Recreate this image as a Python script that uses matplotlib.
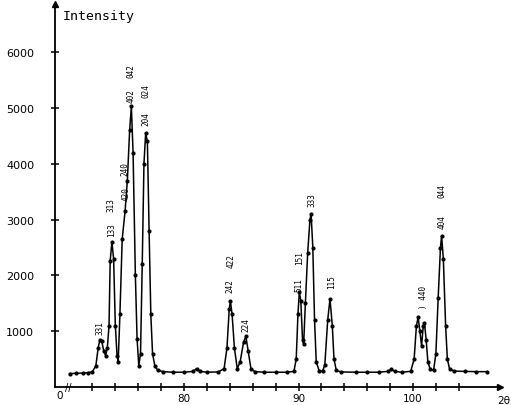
# X-ray diffraction pattern (scanned figure redrawn)

import numpy as np
import matplotlib
matplotlib.use('Agg')
import matplotlib.pyplot as plt

# Trace: 2theta (deg) and intensity (counts)
two_theta = [70.0, 70.6, 71.2, 71.6, 72.0, 72.3, 72.5, 72.65, 72.8, 73.0, 73.15, 73.3,
             73.45, 73.55, 73.7, 73.85, 74.0, 74.15, 74.25, 74.4, 74.6, 74.85,
             75.05, 75.25, 75.4, 75.55, 75.75, 75.9, 76.05, 76.2, 76.35, 76.5,
             76.65, 76.8, 76.95, 77.1, 77.25, 77.45, 77.7, 78.2, 79.0, 80.0,
             80.8, 81.1, 81.4, 82.0, 83.0, 83.5, 83.75, 83.95, 84.05, 84.2,
             84.4, 84.65, 84.9, 85.2, 85.4, 85.6, 85.85, 86.2, 87.0, 88.0,
             89.0, 89.6, 89.8, 89.95, 90.07, 90.2, 90.35, 90.45, 90.6, 90.8,
             91.0, 91.1, 91.25, 91.4, 91.55, 91.8, 92.1, 92.3, 92.55, 92.75,
             92.95, 93.1, 93.3, 93.7, 95.0, 96.0, 97.0, 97.8, 98.1, 98.4,
             99.0, 99.8, 100.1, 100.3, 100.45, 100.6, 100.75, 100.9, 101.0, 101.15,
             101.3, 101.5, 101.8, 102.0, 102.2, 102.4, 102.5, 102.65, 102.85, 103.0,
             103.2, 103.6, 104.5, 105.5, 106.5]
intensity = [240, 245, 250, 255, 275, 380, 700, 850, 830, 640, 560, 700,
             1100, 2260, 2600, 2300, 1100, 560, 450, 1300, 2650, 3150,
             3700, 4600, 5030, 4200, 2000, 860, 380, 600, 2200, 4000,
             4550, 4400, 2800, 1300, 600, 380, 300, 275, 265, 265,
             280, 330, 280, 265, 270, 330, 700, 1400, 1540, 1300,
             700, 330, 450, 800, 910, 650, 320, 275, 265, 265,
             265, 280, 500, 1300, 1700, 1550, 850, 770, 1500, 2400,
             3000, 3100, 2500, 1200, 450, 290, 280, 400, 1200, 1580,
             1100, 500, 300, 270, 265, 265, 265, 280, 320, 280,
             265, 280, 500, 1100, 1250, 1000, 740, 1100, 1150, 850,
             450, 320, 300, 600, 1600, 2500, 2710, 2300, 1100, 500,
             320, 285, 280, 275, 275]

# Miller index labels: text, 2theta, intensity at the bottom of the text
peak_labels = ['331', '133', '313', '420', '240', '402', '042', '204', '024',
               '242', '422', '224', '511', '151', '333', '115', ') 440', '404', '044']
label_x = [72.66, 73.65, 73.65, 74.9, 74.85, 75.35, 75.35, 76.65, 76.65,
           84.05, 84.1, 85.45, 90.07, 90.07, 91.15, 92.85, 100.9, 102.55, 102.55]
label_y = [950, 2700, 3150, 3350, 3800, 5100, 5550, 4700, 5200,
           1700, 2150, 1000, 1720, 2200, 3250, 1780, 1420, 2850, 3400]

x_ticks = [72, 74, 76, 78, 80, 82, 84, 86, 88, 90, 92, 94, 96, 98, 100, 102, 104]
x_ticklabels = ['', '', '', '', '80', '', '', '', '', '90', '', '', '', '', '100', '', '']
y_ticks = [1000, 2000, 3000, 4000, 5000, 6000]

fig = plt.figure(figsize=(5.11, 4.06), dpi=100)
ax = fig.add_axes([55 / 511, 18 / 406, 445 / 511, 383 / 406])
ax.set_xlim(68.73, 107.6)
ax.set_ylim(0, 6864)

ax.plot(two_theta, intensity, color='black', lw=1.1, marker='o', ms=2.0)

mono = 'DejaVu Sans Mono'
for t, x, y in zip(peak_labels, label_x, label_y):
    ax.text(x, y, t, rotation=90, ha='center', va='bottom', fontsize=5.5,
            family=mono)

# axes drawn like the original: arrows, crossing ticks
for s in ['top', 'right']:
    ax.spines[s].set_visible(False)
ax.spines['left'].set_linewidth(1.3)
ax.spines['bottom'].set_linewidth(1.3)
ax.plot(0, 1, marker='^', color='black', ms=4, transform=ax.transAxes, clip_on=False)
ax.plot(1, 0, marker='>', color='black', ms=4, transform=ax.transAxes, clip_on=False)

ax.set_xticks(x_ticks)
ax.set_xticklabels(x_ticklabels)
ax.set_yticks(y_ticks)
ax.tick_params(direction='inout', length=6, width=1.1, labelsize=8)
ax.tick_params(axis='y', pad=12)
ax.tick_params(axis='x', labelsize=7.5, pad=1)

ax.text(69.17, -60, '0', ha='center', va='top', fontsize=7.5)
ax.text(69.9, 0, '//', ha='center', va='center', fontsize=7)
ax.text(510 / 511, 5 / 406, '2θ', transform=fig.transFigure, ha='right',
        va='center', fontsize=7.5)
ax.text(0.018, 0.97, 'Intensity', transform=ax.transAxes, ha='left', va='center',
        fontsize=9.5, family=mono)

fig.savefig('out.png', dpi=100)
